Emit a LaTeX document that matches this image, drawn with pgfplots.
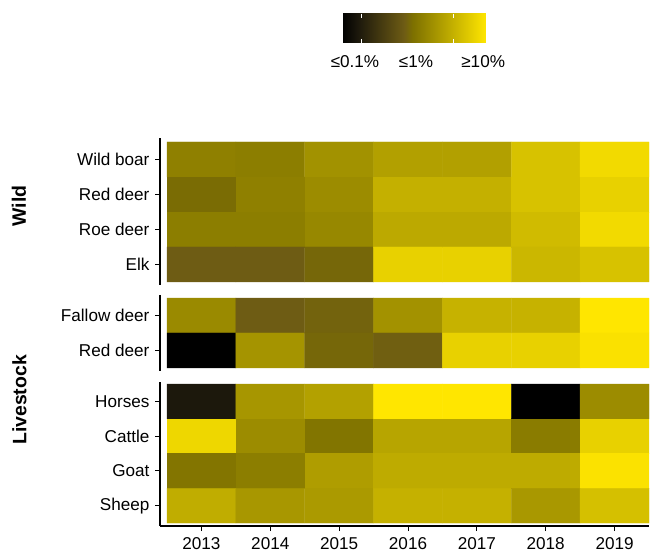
\documentclass[border=0pt]{standalone}
\usepackage{fontspec}
\setmainfont{Liberation Sans}
\usepackage{pgfplots}
\pgfplotsset{compat=1.18}
\usetikzlibrary{calc}
\pgfplotsset{
  colormap={bky}{rgb255(0pt)=(0,0,0) rgb255(28pt)=(28,24,12) rgb255(110pt)=(110,92,20) rgb255(125pt)=(125,112,0) rgb255(255pt)=(255,230,0)},
  hm/.style={
    scale only axis, width=489bp, anchor=south west,
    xmin=-0.602, xmax=6.5, y dir=reverse,
    point meta min=0, point meta max=255, colormap name=bky,
    axis y line*=left,
    tick align=outside, major tick length=5bp,
    tick style={black, line width=1bp},
    axis line style={line width=1.5bp, black},
    ticklabel style={font=\fontsize{17.2}{20}\selectfont},
    /pgf/number format/assume math mode=true,
    yticklabel style={xshift=-2bp},
    xticklabel style={yshift=-3bp},
  },
}
\begin{document}
\begin{tikzpicture}
\path[use as bounding box] (0,0) rectangle (652bp,554bp);
% Panel 1: Wild
\begin{axis}[hm, at={(160bp,269bp)}, height=147bp,
  ymin=-0.614, ymax=3.586, axis x line=none,
  ytick={0,1,2,3}, yticklabels={Wild boar, Red deer, Roe deer, Elk\hspace{4.7bp}},
  colorbar horizontal,
  colorbar/width=29bp,
  colorbar style={
    at={($(parent axis.north west)+(182bp,104bp)$)}, anchor=south west,
    scale only axis, width=144bp, height=29bp,
    xtick={23,131,250}, xticklabels={≤0.1\%, ≤1\%, ≥10\%},
    xticklabel pos=lower,
    major tick length=0pt,
    axis line style={draw=none},
    xticklabel style={font=\fontsize{17.2}{20}\selectfont, yshift=-10bp},
    /pgf/number format/assume math mode=true,
    extra x ticks={35,197}, extra x tick labels={},
    extra x tick style={xtick pos=both, tick align=inside, major tick length=4bp, tick style={white, line width=0.8bp}},
  },
]
\addplot[matrix plot*, mesh/cols=7, point meta=explicit] table[meta=c]{
x y c
0 0 143
1 0 140
2 0 162
3 0 178
4 0 178
5 0 215
6 0 242
0 1 122
1 1 143
2 1 156
3 1 196
4 1 196
5 1 215
6 1 232
0 2 140
1 2 140
2 2 151
3 2 188
4 2 188
5 2 208
6 2 242
0 3 110
1 3 110
2 3 118
3 3 232
4 3 232
5 3 203
6 3 215
};
\end{axis}
% Panel 2: livestock deer
\begin{axis}[hm, at={(160bp,183bp)}, height=76bp,
  ymin=-0.586, ymax=1.586, axis x line=none,
  ytick={0,1}, yticklabels={Fallow deer, Red deer},
]
\addplot[matrix plot*, mesh/cols=7, point meta=explicit] table[meta=c]{
x y c
0 0 154
1 0 110
2 0 115
3 0 163
4 0 198
5 0 198
6 0 255
0 1 0
1 1 165
2 1 118
3 1 112
4 1 232
5 1 232
6 1 250
};
\end{axis}
% Panel 3: livestock
\begin{axis}[hm, at={(160bp,28bp)}, height=144bp,
  ymin=-0.558, ymax=3.586, axis x line*=bottom,
  ytick={0,1,2,3}, yticklabels={Horses, Cattle, Goat, Sheep},
  xtick={0,1,2,3,4,5,6}, xticklabels={2013,2014,2015,2016,2017,2018,2019},
  xtick pos=left, ytick pos=left,
]
\addplot[matrix plot*, mesh/cols=7, point meta=explicit] table[meta=c]{
x y c
0 0 28
1 0 167
2 0 179
3 0 255
4 0 255
5 0 0
6 0 156
0 1 238
1 1 156
2 1 130
3 1 183
4 1 183
5 1 138
6 1 232
0 2 131
1 2 140
2 2 175
3 2 190
4 2 190
5 2 190
6 2 251
0 3 192
1 3 168
2 3 171
3 3 197
4 3 197
5 3 169
6 3 213
};
\end{axis}
\node[rotate=90, font=\fontsize{19.5}{22}\bfseries\selectfont] at (19bp,348bp) {Wild};
\node[rotate=90, font=\fontsize{19.5}{22}\bfseries\selectfont] at (19.5bp,154bp) {Livestock};
\end{tikzpicture}
\end{document}
